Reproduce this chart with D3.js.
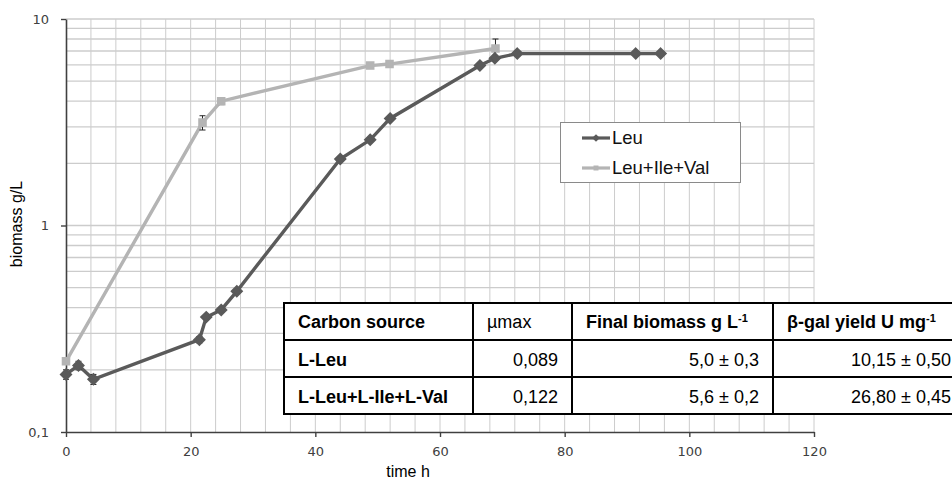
<!DOCTYPE html>
<html>
<head>
<meta charset="utf-8">
<script src="https://cdn.jsdelivr.net/npm/d3@7"></script>
<style>
  body { margin: 0; background: #fff; }
  svg { display: block; }
</style>
</head>
<body>
<script>
// growth curves
var timeLeu    = [0, 2, 4.4, 21.4, 22.5, 24.9, 27.4, 44, 48.8, 52, 66.4, 68.8, 72.4, 91.4, 95.4];
var biomassLeu = [0.19, 0.21, 0.18, 0.28, 0.36, 0.39, 0.48, 2.1, 2.6, 3.3, 5.95, 6.45, 6.8, 6.8, 6.8];
var errLeu     = [0.01, 0.01, 0.01, 0.01, 0.01, 0.01, 0.01, 0.05, 0.05, 0.05, 0.1, 0.1, 0.1, 0.1, 0.1];

var timeLIV    = [0, 21.9, 24.9, 48.8, 51.9, 68.9];
var biomassLIV = [0.22, 3.15, 4.0, 5.95, 6.05, 7.2];
var errLIV     = [0.005, 0.25, 0.15, 0.1, 0.1, 0.8];

var seriesNames = ["Leu", "Leu+Ile+Val"];

var xTicks = [0, 20, 40, 60, 80, 100, 120];
var yTicks = [0.1, 1, 10];
var yTickLabels = ["0,1", "1", "10"];

var tableHeader = ["Carbon source", "\u00b5max", "Final biomass g L", "\u03b2-gal yield U mg"];
var tableSup    = ["", "", "-1", "-1"];
var tableRows   = [
  ["L-Leu", "0,089", "5,0 \u00b1 0,3", "10,15 \u00b1 0,50"],
  ["L-Leu+L-Ile+L-Val", "0,122", "5,6 \u00b1 0,2", "26,80 \u00b1 0,45"]
];

var W = 952, H = 483;
var svg = d3.select("body").append("svg")
  .attr("width", W)
  .attr("height", H);

var x = d3.scaleLinear().domain([0, 120]).range([66, 814]);
var y = d3.scaleLog().domain([0.1, 10]).range([432, 19]);

// soft shadow for the markers
var defs = svg.append("defs");
defs.append("filter").attr("id", "soft")
  .append("feGaussianBlur").attr("stdDeviation", 0.6);

// grid
var g = svg.append("g");
g.selectAll(".vgrid")
  .data(d3.range(4, 121, 4))
  .enter().append("line")
  .attr("x1", d => x(d)).attr("x2", d => x(d))
  .attr("y1", y(10)).attr("y2", y(0.1))
  .attr("stroke", "#cccccc").attr("stroke-width", 1);

var hvals = [];
[0.1, 1].forEach(function(dec) {
  for (var k = 2; k <= 10; k++) hvals.push(dec * k);
});
g.selectAll(".hgrid")
  .data(hvals)
  .enter().append("line")
  .attr("x1", x(0)).attr("x2", x(120))
  .attr("y1", d => y(d)).attr("y2", d => y(d))
  .attr("stroke", "#cccccc").attr("stroke-width", 1.3);

// axes
var xAxis = d3.axisBottom(x).tickValues(xTicks).tickSize(5).tickSizeOuter(0).tickPadding(10);
var yAxis = d3.axisLeft(y).tickValues(yTicks).tickSize(5).tickSizeOuter(0).tickPadding(12)
  .tickFormat((d, i) => yTickLabels[i]);

var gx = svg.append("g").attr("transform", "translate(0," + y(0.1) + ")").call(xAxis);
var gy = svg.append("g").attr("transform", "translate(" + x(0) + ",0)").call(yAxis);
[gx, gy].forEach(function(a) {
  a.select(".domain").attr("stroke", "#404040").attr("stroke-width", 1.6);
  a.selectAll(".tick line").attr("stroke", "#404040").attr("stroke-width", 1.4);
  a.selectAll("text").attr("fill", "#404040")
    .style("font-family", "'DejaVu Sans', Verdana, sans-serif").style("font-size", "13px");
});

svg.append("text")
  .attr("x", 408).attr("y", 477)
  .attr("text-anchor", "middle")
  .style("font-family", "'Liberation Sans', Arial, sans-serif").style("font-size", "16px")
  .text("time h");

svg.append("text")
  .attr("transform", "translate(22,224) rotate(-90)")
  .attr("text-anchor", "middle")
  .style("font-family", "'Liberation Sans', Arial, sans-serif").style("font-size", "16px")
  .text("biomass g/L");

// series
var series = [
  { name: seriesNames[0], t: timeLeu, v: biomassLeu, e: errLeu, color: "#5a5a5a", sym: d3.symbolDiamond2, size: 75 },
  { name: seriesNames[1], t: timeLIV, v: biomassLIV, e: errLIV, color: "#b4b4b4", sym: d3.symbolSquare, size: 50 }
];

var line = d3.line().x(d => x(d[0])).y(d => y(d[1]));

// draw light series first so the dark one sits on top
series.slice().reverse().forEach(function(s) {
  var pts = s.t.map((t, i) => [t, s.v[i], s.e[i]]);
  svg.append("path")
    .datum(pts)
    .attr("d", line)
    .attr("fill", "none")
    .attr("stroke", s.color)
    .attr("stroke-width", 3.4);

  var eb = svg.append("g");
  pts.forEach(function(p) {
    var px = x(p[0]), top = y(p[1] + p[2]), bot = y(Math.max(p[1] - p[2], 0.101));
    eb.append("line").attr("x1", px).attr("x2", px).attr("y1", top).attr("y2", bot)
      .attr("stroke", "#222").attr("stroke-width", 1);
    eb.append("line").attr("x1", px - 3).attr("x2", px + 3).attr("y1", top).attr("y2", top)
      .attr("stroke", "#222").attr("stroke-width", 1);
    eb.append("line").attr("x1", px - 3).attr("x2", px + 3).attr("y1", bot).attr("y2", bot)
      .attr("stroke", "#222").attr("stroke-width", 1);
  });

  svg.append("g").selectAll("path")
    .data(pts)
    .enter().append("path")
    .attr("transform", d => "translate(" + x(d[0]) + "," + y(d[1]) + ")")
    .attr("d", d3.symbol().type(s.sym).size(s.size))
    .attr("fill", s.color)
    .attr("stroke", s.color)
    .attr("stroke-width", 1.5)
    .attr("filter", "url(#soft)");
});

// legend
var leg = svg.append("g");
leg.append("rect")
  .attr("x", 560.5).attr("y", 122.5).attr("width", 180).attr("height", 60)
  .attr("fill", "#fff").attr("stroke", "#8a8a8a").attr("stroke-width", 1);
series.forEach(function(s, i) {
  var ly = 138 + i * 30;
  leg.append("line").attr("x1", 582).attr("x2", 610).attr("y1", ly).attr("y2", ly)
    .attr("stroke", s.color).attr("stroke-width", 3.2);
  leg.append("path")
    .attr("transform", "translate(596," + ly + ")")
    .attr("d", d3.symbol().type(s.sym).size(s.size * 0.5))
    .attr("fill", s.color);
  leg.append("text")
    .attr("x", 612).attr("y", ly + 6)
    .style("font-family", "'Liberation Sans', Arial, sans-serif").style("font-size", "18.5px")
    .attr("fill", "#111")
    .text(s.name);
});

// table
var colX = [284, 473, 572, 773, 965];
var rowY = [303, 340, 377, 414];
var tb = svg.append("g");
tb.append("rect")
  .attr("x", colX[0]).attr("y", rowY[0])
  .attr("width", colX[4] - colX[0]).attr("height", rowY[3] - rowY[0])
  .attr("fill", "#fff").attr("stroke", "#000").attr("stroke-width", 2);
colX.slice(1, 4).forEach(function(cx) {
  tb.append("line").attr("x1", cx).attr("x2", cx).attr("y1", rowY[0]).attr("y2", rowY[3])
    .attr("stroke", "#000").attr("stroke-width", 2);
});
rowY.slice(1, 3).forEach(function(ry) {
  tb.append("line").attr("x1", colX[0]).attr("x2", colX[4]).attr("y1", ry).attr("y2", ry)
    .attr("stroke", "#000").attr("stroke-width", 2);
});

var tfont = "'Liberation Sans', Arial, sans-serif";
tableHeader.forEach(function(h, i) {
  var t = tb.append("text")
    .attr("x", colX[i] + 14).attr("y", rowY[0] + 25)
    .style("font-family", tfont).style("font-size", "18px")
    .style("font-weight", i == 1 ? "normal" : "bold")
    .attr("fill", "#000")
    .text(h);
  if (tableSup[i]) {
    t.append("tspan").attr("dy", -6).style("font-size", "11px").text(tableSup[i]);
  }
});
tableRows.forEach(function(r, ri) {
  r.forEach(function(c, ci) {
    tb.append("text")
      .attr("x", ci == 0 ? colX[0] + 14 : colX[ci + 1] - 14)
      .attr("y", rowY[ri + 1] + 26)
      .attr("text-anchor", ci == 0 ? "start" : "end")
      .style("font-family", tfont).style("font-size", "18px")
      .style("font-weight", ci == 0 ? "bold" : "normal")
      .attr("fill", "#000")
      .text(c);
  });
});
</script>
</body>
</html>
